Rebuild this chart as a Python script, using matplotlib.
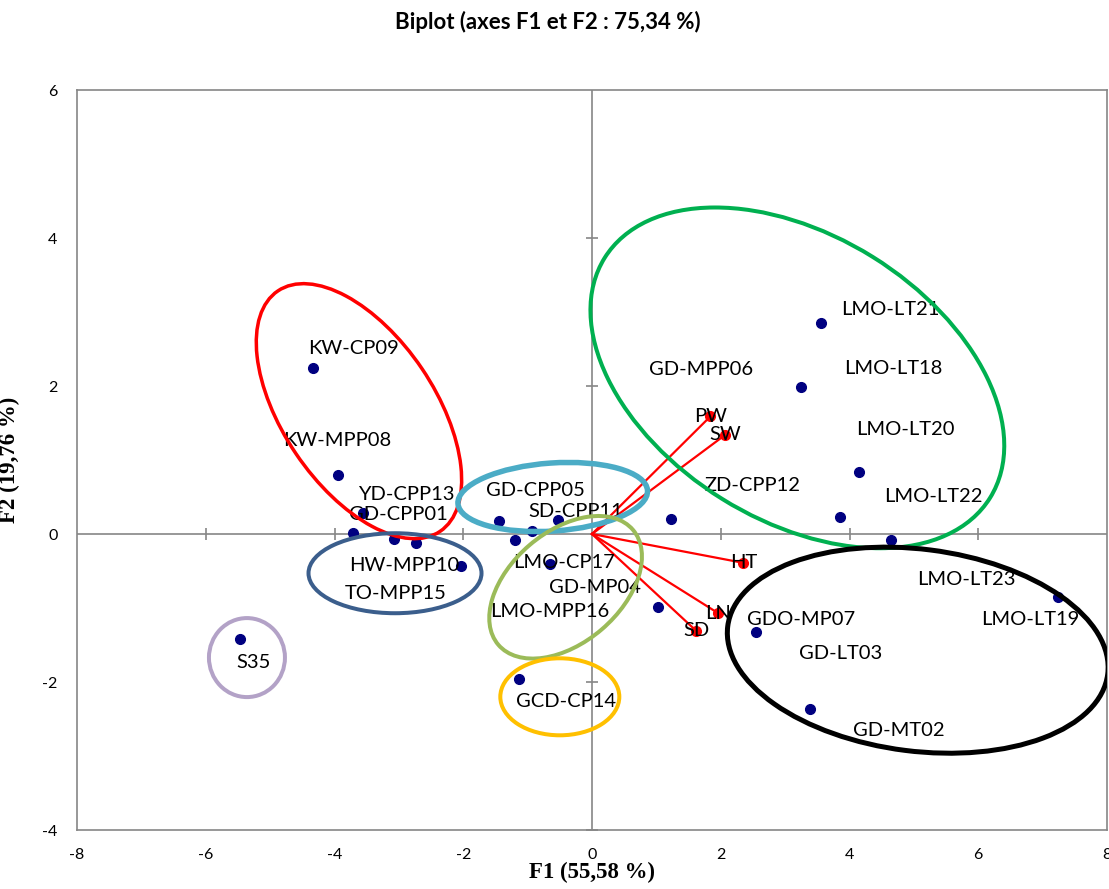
import matplotlib
matplotlib.use("Agg")
import matplotlib.pyplot as plt
import matplotlib.transforms as mtransforms
from matplotlib.patches import Ellipse
import numpy as np

plt.rcParams["axes.unicode_minus"] = False

# observations (F1, F2)
obs_x = [-4.34, -3.94, -3.56, -3.72, -3.07, -2.74, -2.03, -1.45, -0.93, -0.53, -1.20, -0.66,
         1.02, 1.23, -1.14, -5.47, 3.55, 3.25, 4.14, 3.86, 4.65, 7.24, 2.54, 3.38]
obs_y = [2.24, 0.80, 0.28, 0.01, -0.07, -0.12, -0.43, 0.18, 0.04, 0.19, -0.08, -0.40,
         -0.98, 0.20, -1.96, -1.42, 2.85, 1.99, 0.84, 0.23, -0.08, -0.85, -1.32, -2.36]

obs_names = ["KW-CP09", "KW-MPP08", "YD-CPP13", "GD-CPP01", "HW-MPP10", "TO-MPP15",
             "GD-CPP05", "SD-CPP11", "LMO-CP17", "GD-MP04", "LMO-MPP16", "GCD-CP14",
             "S35", "GD-MPP06", "ZD-CPP12", "LMO-LT21", "LMO-LT18", "LMO-LT20",
             "LMO-LT22", "LMO-LT23", "LMO-LT19", "GDO-MP07", "GD-LT03", "GD-MT02"]

# variables (loadings)
var_names = ["PW", "SW", "HT", "LN", "SD"]
var_x = [1.84, 2.07, 2.35, 1.96, 1.62]
var_y = [1.59, 1.34, -0.39, -1.07, -1.31]

# where the observation labels sit (layout, data coords)
label_pos = [(-3.70, 2.51), (-3.95, 1.27), (-2.88, 0.53), (-3.00, 0.26), (-2.91, -0.43),
             (-3.05, -0.81), (-0.88, 0.59), (-0.26, 0.30), (-0.44, -0.39), (0.04, -0.72),
             (-0.66, -1.05), (-0.41, -2.27), (-5.26, -1.73), (1.70, 2.22), (2.49, 0.66),
             (4.64, 3.04), (4.68, 2.24), (4.87, 1.41), (5.30, 0.50), (5.81, -0.61),
             (6.81, -1.15), (3.24, -1.15), (3.86, -1.62), (4.77, -2.66)]

# group ellipses: centre (data), width/height in px, angle, colour, line width px
groups = [
    ((-3.62, 1.66), 152, 290, 34, "#FF0000", 3.5),
    ((3.19, 2.11), 454, 285, -31.9, "#00B050", 4),
    ((5.06, -1.57), 383, 202, -7.2, "#000000", 5),
    ((-0.61, 0.50), 190, 68, 4, "#4BACC6", 5.5),
    ((-3.06, -0.53), 173, 80, 0, "#3B5E8C", 4),
    ((-0.41, -0.72), 177, 111, 40.5, "#9BBB59", 4),
    ((-0.50, -2.20), 119, 77, 0, "#FFC000", 4),
    ((-5.36, -1.67), 76, 79, 0, "#B3A2C7", 4),
]

DPI = 100
fig = plt.figure(figsize=(11.09, 8.89), dpi=DPI)
ax = fig.add_axes([77 / 1109, 59 / 889, 1030 / 1109, 740 / 889])

gray = "#868686"
lab_font = ["Lato", "DejaVu Sans"]
serif = ["Liberation Serif", "DejaVu Serif"]

ax.set_xlim(-8, 8)
ax.set_ylim(-4, 6)
ax.set_xticks(np.arange(-8, 9, 2))
ax.set_yticks(np.arange(-4, 7, 2))
ax.tick_params(length=0, labelsize=11.5)
ax.tick_params(axis="x", pad=13)
ax.tick_params(axis="y", pad=14)
for t in ax.get_xticklabels() + ax.get_yticklabels():
    t.set_family(lab_font)
for s in ax.spines.values():
    s.set_color(gray)
    s.set_linewidth(1.2)

# zero lines with crossing ticks
ax.axhline(0, color=gray, lw=1.2, zorder=1)
ax.axvline(0, color=gray, lw=1.2, zorder=1)
xt = [v for v in range(-6, 7, 2) if v != 0]
yt = [v for v in range(-4, 5, 2) if v != 0]
ax.plot(xt, [0] * len(xt), ls="none", marker="|", ms=9, mew=1.2, color=gray, zorder=1)
ax.plot([0] * len(yt), yt, ls="none", marker="_", ms=9, mew=1.2, color=gray, zorder=1)

# observations
ax.plot(obs_x, obs_y, ls="none", marker="o", ms=7, color="#000080", zorder=3)
for name, (lx, ly) in zip(obs_names, label_pos):
    ax.text(lx, ly, name, ha="center", va="center", fontsize=14.5, family=lab_font, zorder=4)

# variable vectors
for name, vx, vy in zip(var_names, var_x, var_y):
    ax.plot([0, vx], [0, vy], color="red", lw=1.6, zorder=2)
    ax.plot(vx, vy, marker="o", ms=7, color="red", zorder=3)
    ax.text(vx, vy, name, ha="center", va="center", fontsize=14.5, family=lab_font, zorder=4)

# group ellipses, sized in pixels so they keep their shape
for (cx, cy), w, h, ang, col, lw in groups:
    tr = fig.dpi_scale_trans + mtransforms.ScaledTranslation(cx, cy, ax.transData)
    e = Ellipse((0, 0), w / DPI, h / DPI, angle=ang, transform=tr,
                fill=False, edgecolor=col, lw=lw * 0.72, zorder=5)
    ax.add_patch(e)

fig.text(548 / 1109, 1 - 22 / 889, "Biplot (axes F1 et F2 : 75,34 %)", ha="center", va="center",
         fontsize=16, fontweight="bold", family=lab_font)
ax.set_xlabel("F1 (55,58 %)", fontsize=16.5, fontweight="bold", family=serif, labelpad=0)
ax.set_ylabel("F2 (19,76 %)", fontsize=16.5, fontweight="bold", family=serif)
ax.yaxis.set_label_coords(-57 / 1030, 0.5)

fig.savefig("out.png", dpi=DPI)
